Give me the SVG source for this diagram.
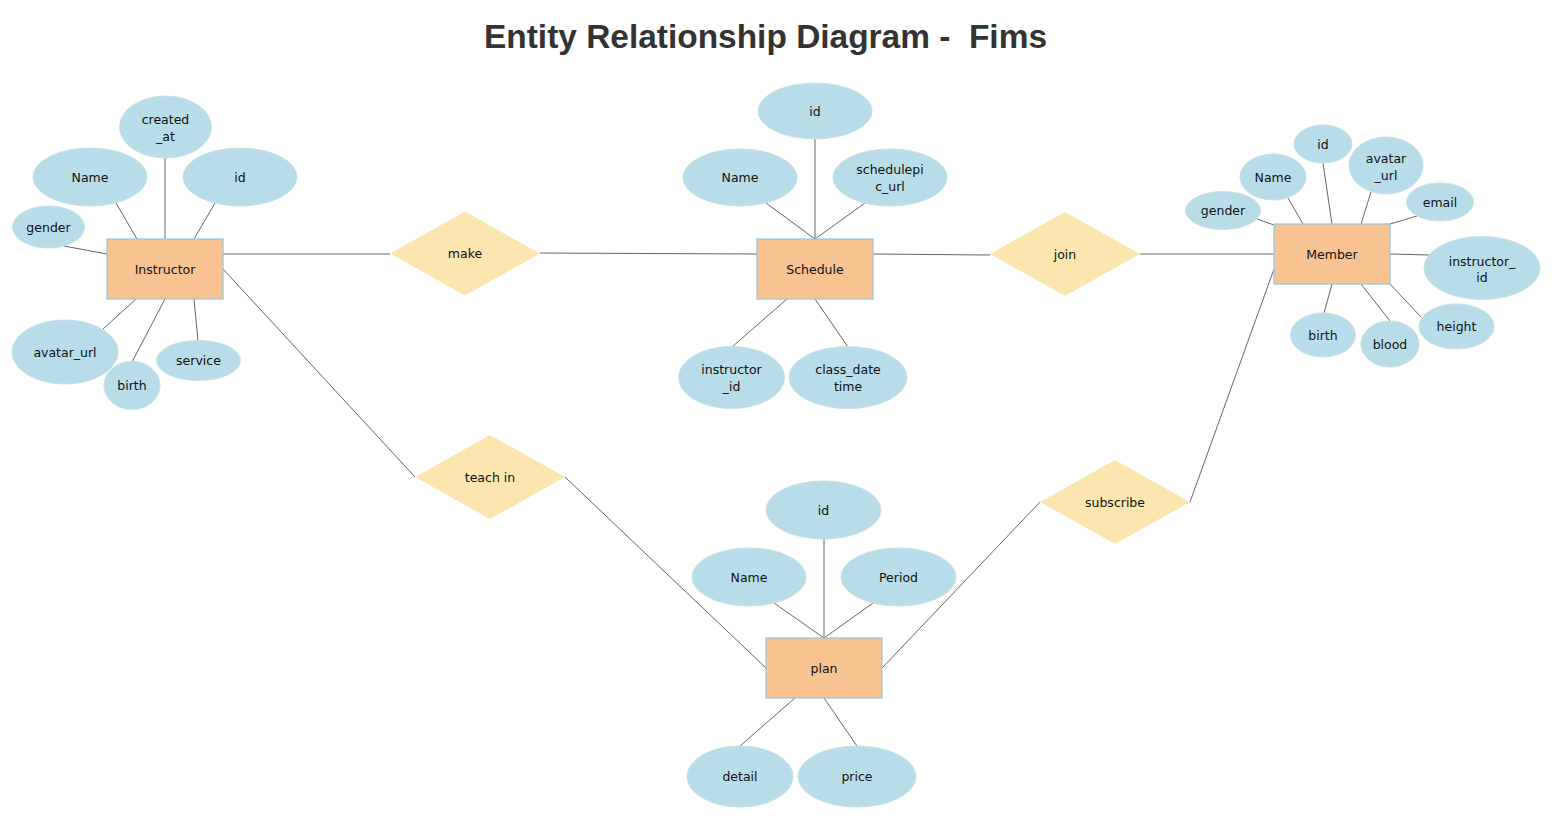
<svg xmlns="http://www.w3.org/2000/svg" width="1552" height="820" viewBox="0 0 1552 820">
<style>
.attr{fill:#B8DDE8;stroke:#C2E2EC;stroke-width:1}
.ent{fill:#F8C291;stroke:#93C6DE;stroke-width:1.2}
.rel{fill:#FCE6B0;stroke:none}
.lk{stroke:#666;stroke-width:1;fill:none}
text{font-family:"DejaVu Sans","Liberation Sans",sans-serif;font-size:12.5px;fill:#111;text-anchor:middle;dominant-baseline:central}
.title{font-family:"Liberation Sans",Arial,sans-serif;font-weight:bold;font-size:33px;fill:#333;dominant-baseline:auto}
</style>
<rect width="1552" height="820" fill="#fff"/>
<text class="title" x="765.5" y="48" textLength="563" lengthAdjust="spacingAndGlyphs" xml:space="preserve">Entity Relationship Diagram -  Fims</text>

<g id="connectors">
<!-- Instructor attrs -->
<line class="lk" x1="116" y1="203" x2="137" y2="239"/>
<line class="lk" x1="165" y1="158" x2="165" y2="239"/>
<line class="lk" x1="215" y1="203" x2="194" y2="239"/>
<line class="lk" x1="64" y1="246" x2="107" y2="254"/>
<line class="lk" x1="103" y1="329" x2="136" y2="299"/>
<line class="lk" x1="132" y1="362" x2="165" y2="299"/>
<line class="lk" x1="198" y1="341" x2="194" y2="299"/>
<!-- Schedule attrs -->
<line class="lk" x1="815" y1="139" x2="815" y2="239"/>
<line class="lk" x1="766" y1="203" x2="815" y2="239"/>
<line class="lk" x1="865" y1="203" x2="815" y2="239"/>
<line class="lk" x1="787" y1="299" x2="732" y2="347"/>
<line class="lk" x1="815" y1="299" x2="848" y2="347"/>
<!-- Member attrs -->
<line class="lk" x1="1323" y1="163" x2="1332" y2="224"/>
<line class="lk" x1="1371" y1="192" x2="1361" y2="224"/>
<line class="lk" x1="1288" y1="198" x2="1303" y2="224"/>
<line class="lk" x1="1257" y1="219" x2="1274" y2="225"/>
<line class="lk" x1="1417" y1="216" x2="1390" y2="224"/>
<line class="lk" x1="1390" y1="254" x2="1430" y2="255"/>
<line class="lk" x1="1332" y1="284" x2="1324" y2="313"/>
<line class="lk" x1="1361" y1="284" x2="1390" y2="321"/>
<line class="lk" x1="1390" y1="284" x2="1421" y2="317"/>
<!-- plan attrs -->
<line class="lk" x1="824" y1="539" x2="824" y2="638"/>
<line class="lk" x1="774" y1="603" x2="824" y2="638"/>
<line class="lk" x1="873" y1="603" x2="824" y2="638"/>
<line class="lk" x1="795" y1="698" x2="740" y2="746"/>
<line class="lk" x1="824" y1="698" x2="857" y2="746"/>
<!-- relationships -->
<line class="lk" x1="223" y1="254" x2="390" y2="254"/>
<line class="lk" x1="540" y1="253" x2="757" y2="254"/>
<line class="lk" x1="873" y1="254" x2="990" y2="255"/>
<line class="lk" x1="1140" y1="254" x2="1274" y2="254"/>
<line class="lk" x1="223" y1="269" x2="415" y2="477"/>
<line class="lk" x1="565" y1="477" x2="766" y2="668"/>
<line class="lk" x1="1274" y1="269" x2="1190" y2="502"/>
<line class="lk" x1="1040" y1="502" x2="882" y2="668"/>
</g>

<g id="Instructor">
<rect class="ent" x="107" y="239" width="116" height="60"/>
<text x="165" y="269">Instructor</text>
</g>
<g id="Instructor_created_at"><ellipse class="attr" cx="165.5" cy="127" rx="46" ry="31"/><text x="165.5" y="119">created</text><text x="165.5" y="136">_at</text></g>
<g id="Instructor_Name"><ellipse class="attr" cx="90" cy="177" rx="57" ry="29"/><text x="90" y="177">Name</text></g>
<g id="Instructor_id"><ellipse class="attr" cx="240" cy="177" rx="57" ry="29"/><text x="240" y="177">id</text></g>
<g id="Instructor_gender"><ellipse class="attr" cx="48.5" cy="227" rx="36" ry="21"/><text x="48.5" y="227">gender</text></g>
<g id="Instructor_avatar_url"><ellipse class="attr" cx="65" cy="352" rx="53" ry="32"/><text x="65" y="352">avatar_url</text></g>
<g id="Instructor_birth"><ellipse class="attr" cx="132" cy="385.5" rx="28" ry="24"/><text x="132" y="385.5">birth</text></g>
<g id="Instructor_service"><ellipse class="attr" cx="198.5" cy="360.5" rx="42" ry="20"/><text x="198.5" y="360.5">service</text></g>

<g id="make"><polygon class="rel" points="390,253.5 465,211.5 540,253.5 465,295.5"/><text x="465" y="253.5">make</text></g>

<g id="Schedule">
<rect class="ent" x="757" y="239" width="116" height="60"/>
<text x="815" y="269">Schedule</text>
</g>
<g id="Schedule_id"><ellipse class="attr" cx="815" cy="111" rx="57" ry="28"/><text x="815" y="111">id</text></g>
<g id="Schedule_Name"><ellipse class="attr" cx="740" cy="177.5" rx="57" ry="28.5"/><text x="740" y="177.5">Name</text></g>
<g id="Schedule_schedulepic_url"><ellipse class="attr" cx="890" cy="177.5" rx="57" ry="28.5"/><text x="890" y="169">schedulepi</text><text x="890" y="186">c_url</text></g>
<g id="Schedule_instructor_id"><ellipse class="attr" cx="731.5" cy="377.5" rx="53" ry="31"/><text x="731.5" y="369">instructor</text><text x="731.5" y="386">_id</text></g>
<g id="Schedule_class_datetime"><ellipse class="attr" cx="848" cy="377.5" rx="59" ry="31"/><text x="848" y="369">class_date</text><text x="848" y="386">time</text></g>

<g id="join"><polygon class="rel" points="990,254 1065,212 1140,254 1065,296"/><text x="1065" y="254">join</text></g>

<g id="Member">
<rect class="ent" x="1274" y="224" width="116" height="60"/>
<text x="1332" y="254">Member</text>
</g>
<g id="Member_id"><ellipse class="attr" cx="1323" cy="144" rx="29" ry="19"/><text x="1323" y="144">id</text></g>
<g id="Member_avatar_url"><ellipse class="attr" cx="1386" cy="165.5" rx="37" ry="28.5"/><text x="1386" y="158">avatar</text><text x="1386" y="175">_url</text></g>
<g id="Member_Name"><ellipse class="attr" cx="1273" cy="177" rx="33" ry="23"/><text x="1273" y="177">Name</text></g>
<g id="Member_gender"><ellipse class="attr" cx="1223" cy="210.5" rx="37.5" ry="19"/><text x="1223" y="210.5">gender</text></g>
<g id="Member_email"><ellipse class="attr" cx="1440" cy="202" rx="33.5" ry="19"/><text x="1440" y="202">email</text></g>
<g id="Member_instructor_id"><ellipse class="attr" cx="1482" cy="268" rx="58" ry="31.5"/><text x="1482" y="261">instructor_</text><text x="1482" y="277">id</text></g>
<g id="Member_birth"><ellipse class="attr" cx="1323" cy="335" rx="32.5" ry="22"/><text x="1323" y="335">birth</text></g>
<g id="Member_blood"><ellipse class="attr" cx="1390" cy="344" rx="29" ry="23"/><text x="1390" y="344">blood</text></g>
<g id="Member_height"><ellipse class="attr" cx="1456.5" cy="326.5" rx="37.5" ry="22.5"/><text x="1456.5" y="326.5">height</text></g>

<g id="teach_in"><polygon class="rel" points="415,477 490,435 565,477 490,519"/><text x="490" y="477">teach in</text></g>
<g id="subscribe"><polygon class="rel" points="1040,502 1115,460 1190,502 1115,544"/><text x="1115" y="502">subscribe</text></g>

<g id="plan">
<rect class="ent" x="766" y="638" width="116" height="60"/>
<text x="824" y="668">plan</text>
</g>
<g id="plan_id"><ellipse class="attr" cx="823.5" cy="510" rx="57.5" ry="29"/><text x="823.5" y="510">id</text></g>
<g id="plan_Name"><ellipse class="attr" cx="749" cy="577" rx="57" ry="29"/><text x="749" y="577">Name</text></g>
<g id="plan_Period"><ellipse class="attr" cx="898.5" cy="577" rx="57.5" ry="29"/><text x="898.5" y="577">Period</text></g>
<g id="plan_detail"><ellipse class="attr" cx="740" cy="776.5" rx="53" ry="30.5"/><text x="740" y="776.5">detail</text></g>
<g id="plan_price"><ellipse class="attr" cx="857" cy="776.5" rx="59" ry="30.5"/><text x="857" y="776.5">price</text></g>
</svg>
